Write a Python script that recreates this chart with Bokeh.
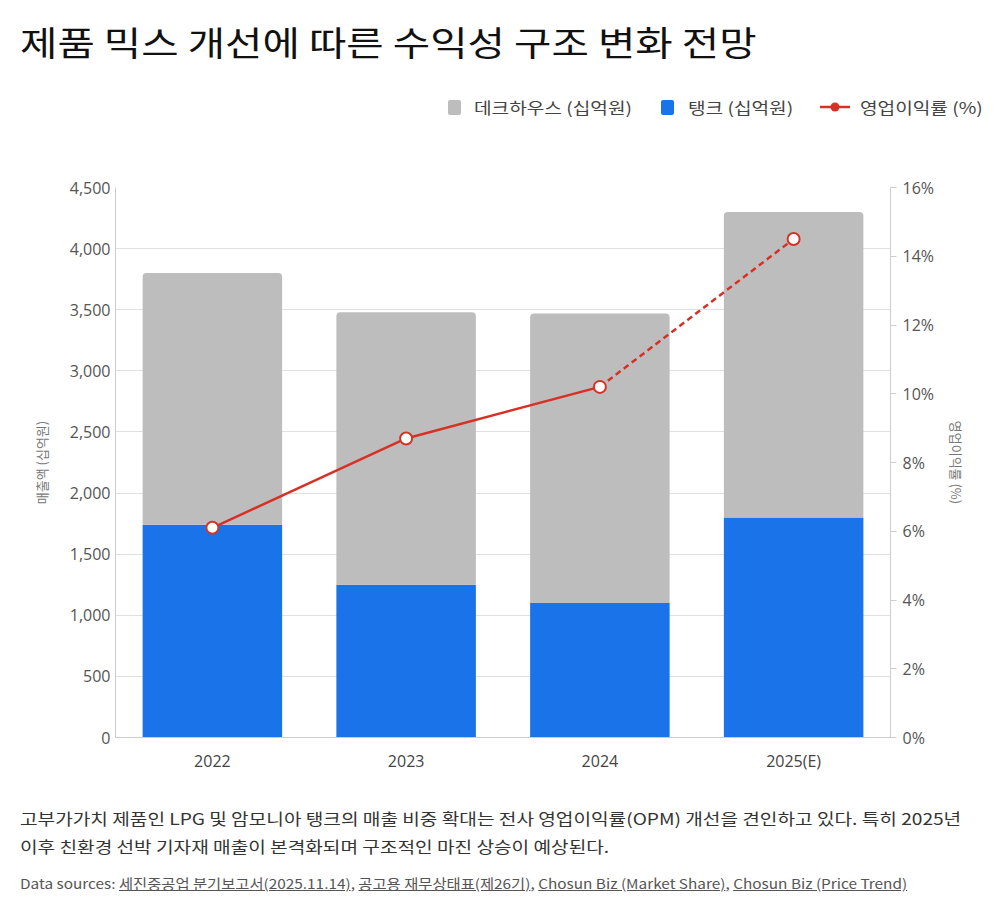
from bokeh.plotting import figure
from bokeh.models import (FactorRange, Range1d, LinearAxis, FixedTicker, NumeralTickFormatter,
                          PrintfTickFormatter, Div)
from bokeh.layouts import column
from bokeh.embed import file_html
from bokeh.resources import INLINE

years = ["2022", "2023", "2024", "2025(E)"]
tank = [1740, 1250, 1100, 1800]          # 탱크 (십억원)
deckhouse = [2060, 2230, 2370, 2500]     # 데크하우스 (십억원)
opm = [6.1, 8.7, 10.2, 14.5]             # 영업이익률 (%)
left_ticks = [0, 500, 1000, 1500, 2000, 2500, 3000, 3500, 4000, 4500]
right_ticks = [0, 2, 4, 6, 8, 10, 12, 14, 16]
series_names = ["데크하우스 (십억원)", "탱크 (십억원)", "영업이익률 (%)"]

KR = "Noto Sans CJK KR"
NUM = "Open Sans"
GRAY = "#bdbdbd"
BLUE = "#1a73e8"
RED = "#d93025"

totals = [t + d for t, d in zip(tank, deckhouse)]

# ---------------- main chart ----------------
p = figure(x_range=FactorRange(factors=years), y_range=Range1d(0, 4500),
           width=1000, height=650, output_backend="svg", toolbar_location=None,
           min_border_left=115, min_border_right=110, min_border_top=52, min_border_bottom=48)
p.extra_y_ranges = {"pct": Range1d(0, 16)}
p.outline_line_color = None
p.background_fill_color = "white"

p.vbar(x=years, top=tank, bottom=0, width=0.72, fill_color=BLUE, line_color=None)
p.vbar(x=years, bottom=tank, top=totals, width=0.72, fill_color=GRAY, line_color=None,
       border_radius=(4, 4, 0, 0))
p.line(x=years[:3], y=opm[:3], y_range_name="pct", line_color=RED, line_width=2.5)
p.line(x=years[2:], y=opm[2:], y_range_name="pct", line_color=RED, line_width=2.5,
       line_dash="6 4")
p.scatter(x=years, y=opm, y_range_name="pct", size=12, fill_color="white",
          line_color=RED, line_width=2)

# left axis
ax = p.yaxis[0]
ax.ticker = FixedTicker(ticks=left_ticks)
ax.formatter = NumeralTickFormatter(format="0,0")
ax.axis_label = "매출액 (십억원)"
ax.axis_label_text_font = KR
ax.axis_label_text_font_size = "13px"
ax.axis_label_text_font_style = "normal"
ax.axis_label_text_color = "#777777"
ax.axis_label_standoff = 16
ax.major_label_text_font = NUM
ax.major_label_text_font_size = "16px"
ax.major_label_text_color = "#555555"
ax.major_label_standoff = 5
ax.axis_line_color = "#cccccc"
ax.major_tick_line_color = None
ax.major_tick_out = 0
ax.major_tick_in = 0
ax.minor_tick_line_color = None

# right axis
rax = LinearAxis(y_range_name="pct", ticker=FixedTicker(ticks=right_ticks),
                 formatter=PrintfTickFormatter(format="%d%%"))
rax.axis_label = "영업이익률 (%)"
rax.axis_label_text_font = KR
rax.axis_label_text_font_size = "13px"
rax.axis_label_text_font_style = "normal"
rax.axis_label_text_color = "#777777"
rax.axis_label_standoff = 10
rax.major_label_text_font = NUM
rax.major_label_text_font_size = "16px"
rax.major_label_text_color = "#555555"
rax.major_label_standoff = 6
rax.axis_line_color = "#cccccc"
rax.major_tick_line_color = "#cccccc"
rax.major_tick_out = 6
rax.major_tick_in = 0
rax.minor_tick_line_color = None
p.add_layout(rax, "right")

# x axis
xa = p.xaxis[0]
xa.major_label_text_font = NUM
xa.major_label_text_font_size = "16px"
xa.major_label_text_color = "#444444"
xa.major_label_standoff = 12
xa.axis_line_color = "#cccccc"
xa.major_tick_line_color = None
xa.major_tick_out = 0
xa.major_tick_in = 0

p.xgrid.grid_line_color = None
p.ygrid.grid_line_color = "#e0e0e0"
p.ygrid.ticker = FixedTicker(ticks=left_ticks)

# ---------------- legend (HTML) ----------------
lab = ("position:absolute;top:16px;font-family:&quot;Noto Sans CJK KR&quot;;font-size:16px;line-height:22px;"
       "color:#444;white-space:nowrap;transform:scaleX(1.195);transform-origin:0 0;")
sw = "position:absolute;top:20px;width:13px;height:15px;border-radius:2px;"
legend_html = (
    '<div style="position:relative;width:1000px;height:55px;">'
    f'<span style="{sw}left:448px;background:{GRAY};"></span>'
    f'<span style="{lab}left:474px;">{series_names[0]}</span>'
    f'<span style="{sw}left:661px;background:{BLUE};"></span>'
    f'<span style="{lab}left:688px;">{series_names[1]}</span>'
    '<svg style="position:absolute;left:820px;top:20px;" width="30" height="14">'
    f'<line x1="0" y1="7" x2="30" y2="7" stroke="{RED}" stroke-width="2.5"/>'
    f'<circle cx="15" cy="7" r="4.5" fill="{RED}"/></svg>'
    f'<span style="{lab}left:860px;">{series_names[2]}</span>'
    '</div>')
legend = Div(text=legend_html, width=1000, height=55, margin=(0, 0, 0, 0))

# ---------------- texts ----------------
title = Div(text=("<div style=\"font-family:'Noto Sans CJK KR';font-size:34px;color:#111;"
                  "padding:20px 0 0 20px;line-height:44px;white-space:nowrap;"
                  "transform:scaleX(1.195);transform-origin:20px 0;\">"
                  "제품 믹스 개선에 따른 수익성 구조 변화 전망</div>"),
            width=1000, height=80, margin=(0, 0, 0, 0))

u = "text-decoration:underline;"
caption = Div(text=("<div style=\"font-family:'Noto Sans CJK KR';padding:19px 0 0 20px;\">"
                    "<div style=\"font-size:16px;line-height:28px;color:#333;white-space:nowrap;"
                    "transform:scaleX(1.195);transform-origin:0 0;\">"
                    "고부가가치 제품인 LPG 및 암모니아 탱크의 매출 비중 확대는 전사 영업이익률(OPM) 개선을 견인하고 있다. 특히 2025년<br>"
                    "이후 친환경 선박 기자재 매출이 본격화되며 구조적인 마진 상승이 예상된다.</div>"
                    "<div style=\"font-size:13.5px;line-height:20px;color:#555;margin-top:13px;white-space:nowrap;"
                    "transform:scaleX(1.137);transform-origin:0 0;\">"
                    "Data sources: "
                    f"<span style='{u}'>세진중공업 분기보고서(2025.11.14)</span>, "
                    f"<span style='{u}'>공고용 재무상태표(제26기)</span>, "
                    f"<span style='{u}'>Chosun Biz (Market Share)</span>, "
                    f"<span style='{u}'>Chosun Biz (Price Trend)</span>"
                    "</div></div>"),
              width=1000, height=132, margin=(0, 0, 0, 0))

layout = column(title, legend, p, caption, spacing=0)
open("out.html", "w").write(file_html(layout, INLINE))
